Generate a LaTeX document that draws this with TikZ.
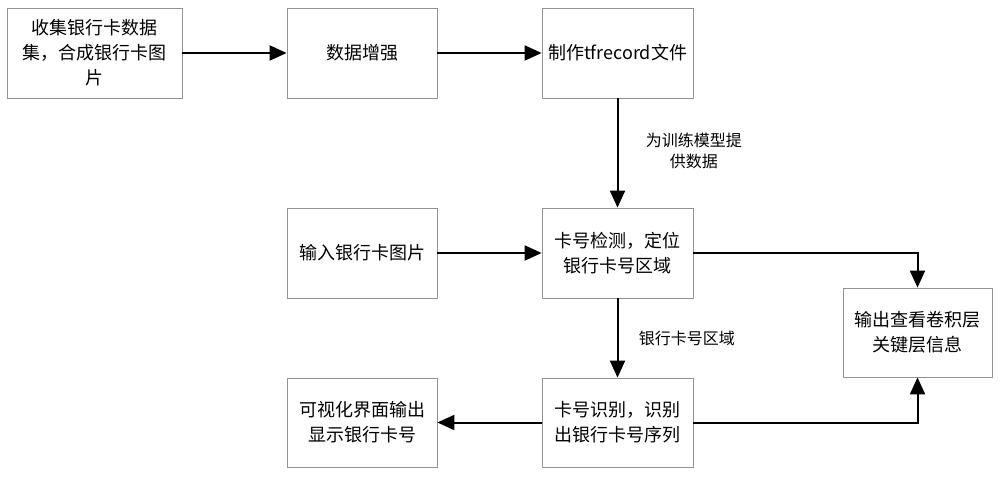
\documentclass[tikz,border=0pt]{standalone}
\usepackage{fontspec}
\setmainfont{Noto Sans CJK SC}
\usetikzlibrary{arrows.meta}
\begin{document}
\begin{tikzpicture}[x=1pt,y=-1pt,
  box/.style={draw=gray!85,line width=0.8pt,minimum width=150pt,minimum height=90pt,align=center,font=\fontsize{18}{25}\selectfont,inner sep=0pt},
  arr/.style={line width=2pt,-{Triangle[length=17pt,width=15pt]}},
  lbl/.style={font=\fontsize{16}{21}\selectfont,align=center}]
\useasboundingbox (0,0) rectangle (1000,476);
\node[box,minimum width=175pt] (b1) at (94.5,53) {收集银行卡数据\\集，合成银行卡图\\片};
\node[box] (b2) at (362,53) {数据增强};
\node[box,minimum width=151pt] (b3) at (617.5,53) {制作tfrecord文件};
\node[box] (b4) at (362,253) {输入银行卡图片};
\node[box,minimum width=151pt] (b5) at (617.5,253) {卡号检测，定位\\银行卡号区域};
\node[box,minimum width=149pt,minimum height=89pt] (b6) at (917.5,332.5) {输出查看卷积层\\关键层信息};
\node[box,minimum height=89pt] (b7) at (362,422.5) {可视化界面输出\\显示银行卡号};
\node[box,minimum width=151pt,minimum height=89pt] (b8) at (617.5,422.5) {卡号识别，识别\\出银行卡号序列};
\draw[arr] (b1) -- (b2);
\draw[arr] (b2) -- (b3);
\draw[arr] (b3) -- node[lbl,right=24pt,pos=0.48] {为训练模型提\\供数据} (b5);
\draw[arr] (b4) -- (b5);
\draw[arr] (b5) -- node[lbl,right=17pt,pos=0.5] {银行卡号区域} (b8);
\draw[arr] (b8) -- (b7);
\draw[arr] (b5.east) -| (b6.north);
\draw[arr] (b8.east) -| (b6.south);
\end{tikzpicture}
\end{document}
